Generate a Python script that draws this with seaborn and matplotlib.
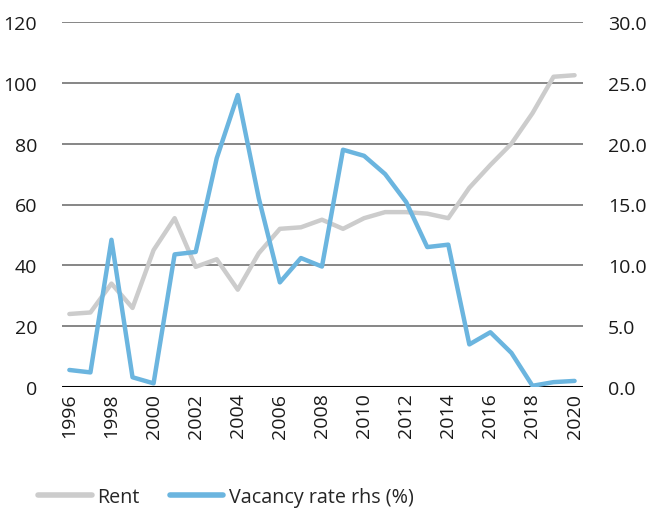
import matplotlib
matplotlib.use('Agg')
import matplotlib.pyplot as plt
import seaborn as sns
import pandas as pd

years = list(range(1996, 2021))
rent = [24.0, 24.5, 34.0, 26.0, 45.0, 55.5, 39.5, 42.0, 32.0, 44.0, 52.0, 52.5,
        55.0, 52.0, 55.5, 57.5, 57.5, 57.0, 55.5, 65.5, 73.0, 80.0, 90.0, 102.0, 102.5]
vacancy = [1.4, 1.2, 12.1, 0.8, 0.3, 10.9, 11.1, 18.8, 24.0, 15.5, 8.6, 10.6,
           9.9, 19.5, 19.0, 17.5, 15.2, 11.5, 11.7, 3.5, 4.5, 2.8, 0.1, 0.4, 0.5]
xticks = list(range(1996, 2021, 2))

rent_color = '#cccccc'
vac_color = '#6bb5df'

df = pd.DataFrame({'year': years, 'rent': rent, 'vacancy': vacancy})

sns.set_style('white')
plt.rcParams['font.family'] = ['Open Sans', 'DejaVu Sans']

fig = plt.figure(figsize=(6.46, 5.10), dpi=100)
ax = fig.add_axes([62 / 646, 1 - 388 / 510, 521 / 646, 365 / 510])
ax2 = ax.twinx()

ax.set_ylim(0, 120)
ax.set_yticks(range(0, 121, 20))
ax2.set_ylim(0, 30)
ax2.set_yticks(range(0, 31, 5))
ax2.set_yticklabels([f'{v:.1f}' for v in range(0, 31, 5)])
ax.set_xlim(1995.65, 2020.4)

for y in range(20, 121, 20):
    ax.axhline(y, color='#666666', lw=1.1, zorder=0)
ax.axhline(0, color='black', lw=2.2, zorder=1)

sns.lineplot(data=df, x='year', y='rent', ax=ax, color=rent_color, lw=3.2, label='Rent', legend=False)
sns.lineplot(data=df, x='year', y='vacancy', ax=ax2, color=vac_color, lw=3.2, label='Vacancy rate rhs (%)', legend=False)

ax.set_xticks(xticks)
ax.set_xticklabels([str(x) for x in xticks], rotation=90)
for a in (ax, ax2):
    a.set_xlabel('')
    a.set_ylabel('')
    for s in a.spines.values():
        s.set_visible(False)
    a.tick_params(length=0, labelsize=14, colors='#1a1a1a', pad=6)
ax.tick_params(axis='y', pad=18)
ax2.tick_params(axis='y', pad=18)
ax.tick_params(axis='x', pad=4)

h1, l1 = ax.get_legend_handles_labels()
h2, l2 = ax2.get_legend_handles_labels()
leg = fig.legend(h1 + h2, l1 + l2, loc='lower left', bbox_to_anchor=(0.032, -0.03), ncol=2,
                 frameon=False, fontsize=14.2, handlelength=2.7, handletextpad=0.3, columnspacing=1.5)
for line in leg.get_lines():
    line.set_linewidth(4)

fig.savefig('out.png', dpi=100)
